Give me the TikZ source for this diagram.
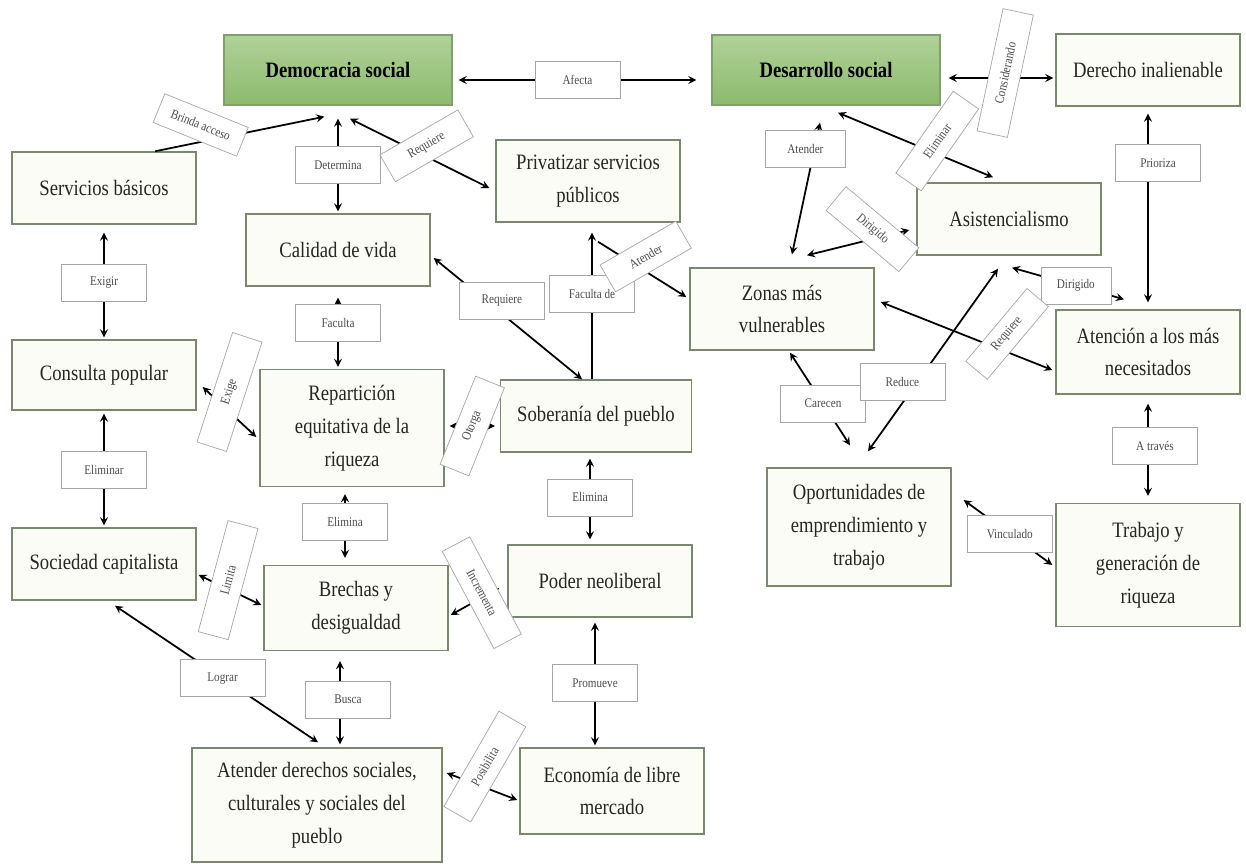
\documentclass[tikz,border=0pt]{standalone}
\usepackage{fontspec}
\setmainfont{Liberation Serif}[FakeStretch=0.85]
\usepackage{xcolor}
\usepackage{tikz}
\usetikzlibrary{arrows}
\definecolor{topgreen}{RGB}{176,210,152}
\definecolor{botgreen}{RGB}{141,186,110}
\definecolor{greenline}{RGB}{130,160,108}
\definecolor{boxline}{RGB}{122,136,110}
\definecolor{boxfill}{RGB}{250,252,245}
\newcommand{\boxfont}{\fontsize{12.5}{18.7}\selectfont}
\newcommand{\tagfont}{\fontsize{7.5}{8.5}\selectfont}
\tikzstyle{topic} = [rectangle, minimum width=4.56cm, minimum height=1.4cm, text centered, draw=greenline, line width=0.8pt, top color=topgreen, bottom color=botgreen, font=\boxfont\bfseries]
\tikzstyle{concept} = [rectangle, minimum width=3.68cm, minimum height=1.44cm, align=center, draw=boxline, line width=0.8pt, fill=boxfill, text=black!85, font=\boxfont]
\tikzstyle{tag} = [rectangle, minimum width=1.7cm, minimum height=0.74cm, draw=black!35, line width=0.4pt, fill=white, text=black!70, font=\tagfont]
\tikzstyle{slanttag} = [tag, minimum width=2.1cm, minimum height=0.62cm]
\tikzstyle{arrow} = [line width=1pt,->,>=stealth]
\tikzstyle{dblarrow} = [line width=1pt,<->,>=stealth]

\begin{document}
\begin{tikzpicture}[node distance=1.5cm]
    \useasboundingbox (0,0) rectangle (24.92,-17.26);
    \node (demo) [topic] at (6.76,-1.4) {Democracia social};
    \node (desa) [topic, right of=demo, xshift=8.26cm] {Desarrollo social};
    \node (dere) [concept, right of=desa, xshift=4.94cm] {Derecho inalienable};
    \node (cali) [concept, below of=demo, yshift=-2.1cm] {Calidad de vida};
    \node (serv) [concept, left of=cali, xshift=-3.18cm, yshift=1.24cm] {Servicios básicos};
    \node (cons) [concept, below of=serv, yshift=-2.24cm, minimum height=1.4cm] {Consulta popular};
    \node (soci) [concept, below of=cons, yshift=-2.28cm] {Sociedad capitalista};
    \node (priv) [concept, right of=cali, xshift=3.5cm, yshift=1.38cm, minimum height=1.64cm] {Privatizar servicios\\públicos};
    \node (repa) [concept, below of=cali, xshift=0.28cm, yshift=-2.06cm, minimum height=2.34cm] {Repartición\\equitativa de la\\riqueza};
    \node (sobe) [concept, right of=repa, xshift=3.38cm, yshift=0.24cm, minimum width=3.82cm] {Soberanía del pueblo};
    \node (brec) [concept, below of=repa, xshift=0.08cm, yshift=-2.1cm, minimum height=1.7cm] {Brechas y\\desigualdad};
    \node (pode) [concept, right of=brec, xshift=3.38cm, yshift=0.54cm] {Poder neoliberal};
    \node (atde) [concept, below of=brec, xshift=-0.78cm, yshift=-2.44cm, minimum width=5cm, minimum height=2.28cm] {Atender derechos sociales,\\culturales y sociales del\\pueblo};
    \node (econ) [concept, right of=atde, xshift=4.4cm, yshift=0.28cm, minimum height=1.72cm] {Economía de libre\\mercado};
    \node (zona) [concept, below of=desa, xshift=-0.88cm, yshift=-3.28cm, minimum height=1.64cm] {Zonas más\\vulnerables};
    \node (asis) [concept, right of=zona, xshift=3.04cm, yshift=1.8cm] {Asistencialismo};
    \node (aten) [concept, below of=dere, yshift=-4.14cm, minimum height=1.68cm] {Atención a los más\\necesitados};
    \node (trab) [concept, below of=aten, yshift=-2.76cm, minimum height=2.46cm] {Trabajo y\\generación de\\riqueza};
    \node (opor) [concept, left of=trab, xshift=-4.28cm, yshift=0.76cm, minimum height=2.36cm] {Oportunidades de\\emprendimiento y\\trabajo};

    \draw [dblarrow] ([xshift=0.12cm,yshift=-0.2cm]demo.east) -- node[tag] {Afecta} ([xshift=-0.3cm,yshift=-0.2cm]desa.west);
    \draw [arrow] ([xshift=1.02cm]serv.north) -- node[slanttag, pos=0.27, yshift=0.34cm, rotate=-22, minimum width=1.8cm] {Brinda acceso} ([xshift=2.02cm,yshift=-0.22cm]demo.south west);
    \draw [dblarrow] ([yshift=-0.26cm]demo.south) -- node[tag] {Determina} ([yshift=0.04cm]cali.north);
    \draw [dblarrow] ([xshift=0.24cm,yshift=-0.26cm]demo.south) -- node[slanttag, pos=0.55, yshift=0.22cm, rotate=30, minimum width=1.8cm] {Requiere} ([xshift=-0.12cm,yshift=-0.14cm]priv.west);
    \draw [dblarrow] ([yshift=-0.16cm]serv.south) -- node[tag, pos=0.48] {Exigir} ([yshift=0.04cm]cons.north);
    \draw [dblarrow] ([yshift=-0.22cm]cali.south) -- node[tag, pos=0.37] {Faculta} ([yshift=0.04cm]cali.south |- repa.north);
    \draw [dblarrow] ([xshift=0.12cm,yshift=-0.24cm]cons.east) -- node[slanttag, pos=0.5, yshift=0.4cm, rotate=72, minimum width=2.3cm] {Exige} ([xshift=-0.06cm,yshift=-0.18cm]repa.west);
    \draw [dblarrow] ([xshift=0.1cm,yshift=0.04cm]repa.east) -- node[slanttag, rotate=68, minimum width=1.9cm] {Otorga} ([xshift=-0.1cm,yshift=-0.2cm]sobe.west);
    \draw [arrow] ([xshift=-0.08cm]sobe.north) -- node[tag, pos=0.58] {Faculta de} ([xshift=-0.08cm,yshift=-0.2cm]sobe.north |- priv.south);
    \draw [dblarrow] ([xshift=-0.28cm]sobe.north) -- node[tag, pos=0.54, yshift=0.26cm] {Requiere} ([xshift=0.06cm,yshift=-0.16cm]cali.east);
    \draw [arrow] ([xshift=0.2cm,yshift=-0.38cm]priv.south) -- node[slanttag, pos=0.54, yshift=0.3cm, rotate=30, minimum width=1.75cm] {Atender} ([xshift=-0.06cm,yshift=0.24cm]zona.west);
    \draw [dblarrow] ([xshift=0.16cm,yshift=-0.16cm]desa.east) -- node[slanttag, pos=0.54, yshift=0.1cm, rotate=78, minimum width=2.5cm] {Considerando} ([xshift=-0.04cm,yshift=-0.16cm]dere.west);
    \draw [dblarrow] ([xshift=0.24cm,yshift=-0.14cm]desa.south) -- node[slanttag, pos=0.64, yshift=0.26cm, rotate=55, minimum width=2cm] {Eliminar} ([xshift=-0.32cm,yshift=0.1cm]asis.north);
    \draw [dblarrow] ([xshift=-0.12cm,yshift=-0.34cm]desa.south) -- node[tag, pos=0.2, xshift=-0.18cm, minimum width=1.6cm] {Atender} ([xshift=0.2cm,yshift=0.26cm]zona.north);
    \draw [dblarrow] ([xshift=0.5cm,yshift=0.24cm]zona.north) -- node[slanttag, pos=0.64, yshift=0.2cm, rotate=-40, minimum width=1.9cm] {Dirigido} ([xshift=-0.14cm,yshift=-0.22cm]asis.west);
    \draw [dblarrow] ([xshift=0.06cm,yshift=-0.24cm]asis.south) -- node[tag, pos=0.57, minimum width=1.4cm] {Dirigido} ([xshift=-0.48cm,yshift=0.2cm]aten.north);
    \draw [dblarrow] ([xshift=0.16cm,yshift=-0.04cm]zona.south) -- node[tag, pos=0.55] {Carecen} ([xshift=-0.18cm,yshift=0.44cm]opor.north);
    \draw [dblarrow] ([xshift=-0.22cm,yshift=-0.26cm]asis.south) -- node[tag, pos=0.62, xshift=-0.3cm] {Reduce} ([xshift=0.18cm,yshift=0.32cm]opor.north);
    \draw [dblarrow] ([xshift=0.12cm,yshift=0.14cm]zona.east) -- node[slanttag, pos=0.69, xshift=0.16cm, yshift=0.3cm, rotate=50, minimum width=1.9cm, minimum height=0.56cm] {Requiere} ([xshift=-0.06cm,yshift=-0.36cm]aten.west);
    \draw [dblarrow] ([yshift=-0.14cm]dere.south) -- node[tag, pos=0.26, xshift=0.2cm] {Prioriza} ([yshift=0.14cm]aten.north);
    \draw [dblarrow] ([yshift=-0.18cm]aten.south) -- node[tag, pos=0.46, xshift=0.14cm] {A través} ([yshift=0.14cm]trab.north);
    \draw [dblarrow] ([xshift=0.24cm,yshift=0.54cm]opor.east) -- node[tag, pos=0.52] {Vinculado} ([xshift=-0.06cm]trab.west);
    \draw [dblarrow] ([yshift=-0.06cm]cons.south) -- node[tag] {Eliminar} ([yshift=0.04cm]soci.north);
    \draw [dblarrow] ([xshift=0.04cm,yshift=-0.22cm]soci.east) -- node[slanttag, pos=0.47, yshift=0.18cm, rotate=75, minimum width=2.3cm] {Limita} ([xshift=-0.04cm,yshift=0.06cm]brec.west);
    \draw [dblarrow] ([xshift=-0.14cm,yshift=-0.14cm]repa.south) -- node[tag, pos=0.44] {Elimina} ([xshift=-0.14cm,yshift=0.14cm]repa.south |- brec.north);
    \draw [dblarrow] ([xshift=-0.16cm,yshift=-0.14cm]pode.west) -- node[slanttag, pos=0.36, yshift=0.1cm, rotate=-62, minimum width=2.2cm] {Incrementa} ([xshift=0.04cm,yshift=-0.14cm]brec.east);
    \draw [dblarrow] ([xshift=-0.12cm,yshift=-0.12cm]sobe.south) -- node[tag, pos=0.48] {Elimina} ([xshift=-0.12cm,yshift=0.1cm]sobe.south |- pode.north);
    \draw [dblarrow] ([xshift=0.22cm,yshift=-0.1cm]soci.south) -- node[tag, pos=0.53] {Lograr} ([xshift=0.02cm,yshift=0.1cm]atde.north);
    \draw [dblarrow] ([xshift=-0.32cm,yshift=-0.2cm]brec.south) -- node[tag, pos=0.46, xshift=0.16cm] {Busca} ([xshift=-0.32cm,yshift=0.06cm]brec.south |- atde.north);
    \draw [dblarrow] ([xshift=-0.1cm,yshift=-0.1cm]pode.south) -- node[tag, pos=0.49] {Promueve} ([xshift=-0.1cm,yshift=0.04cm]pode.south |- econ.north);
    \draw [dblarrow] ([xshift=0.08cm,yshift=0.64cm]atde.east) -- node[slanttag, pos=0.54, yshift=0.42cm, rotate=60, minimum width=2.2cm] {Posibilita} ([xshift=-0.04cm,yshift=-0.18cm]econ.west);
\end{tikzpicture}
\end{document}
